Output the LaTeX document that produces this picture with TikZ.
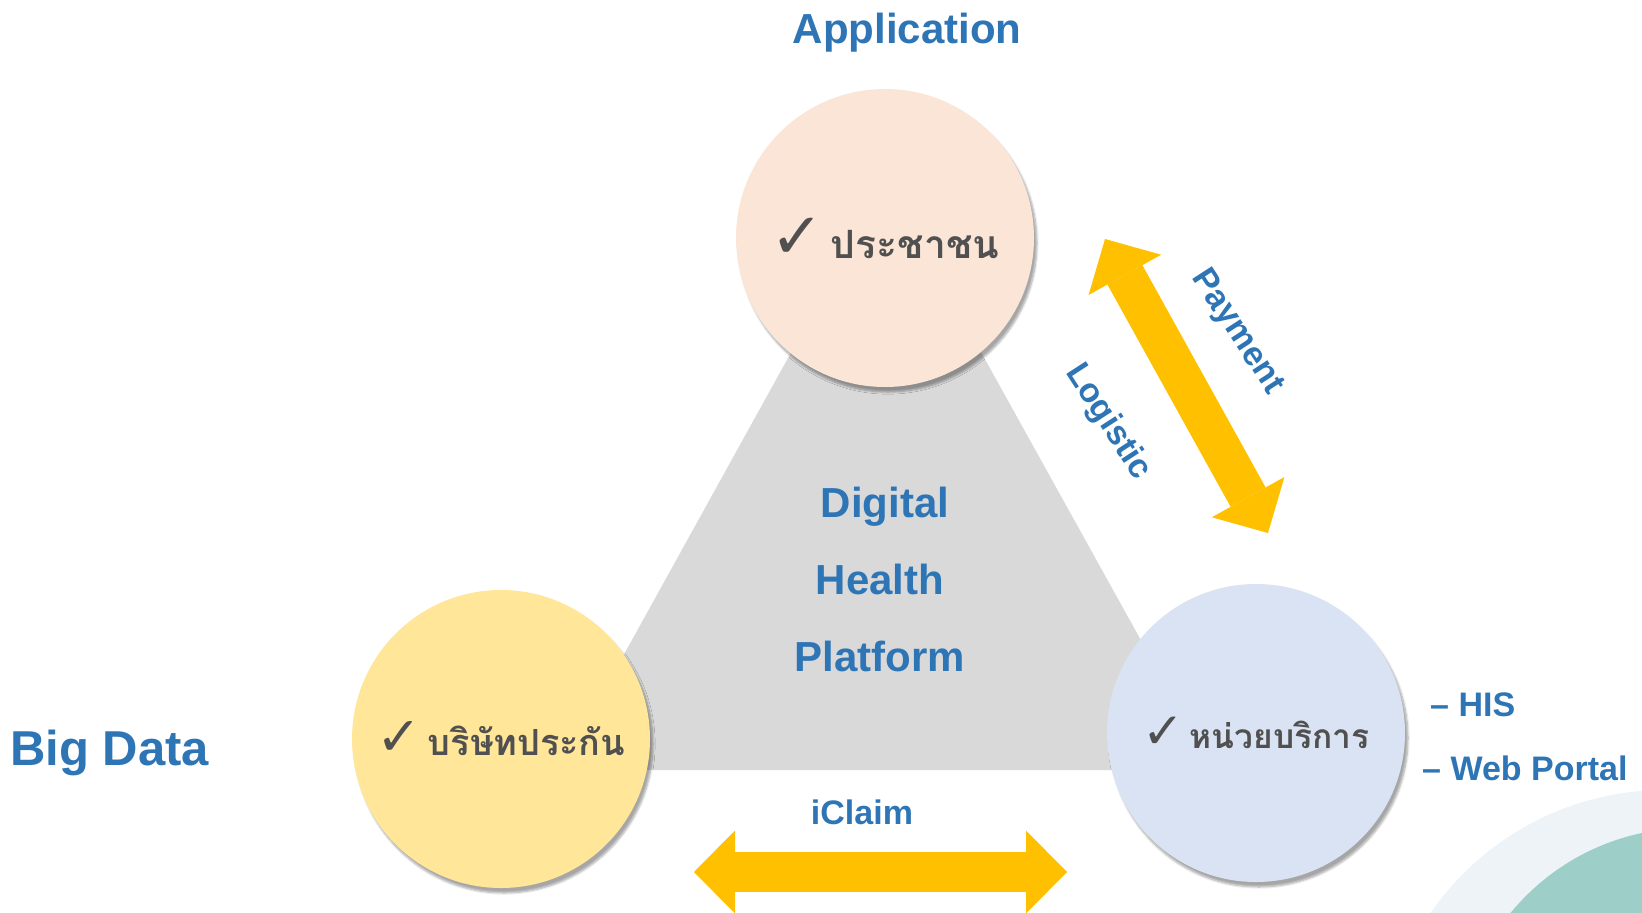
\documentclass[tikz,border=0pt]{standalone}
\usepackage{fontspec}
\setmainfont{Liberation Sans}
\newfontfamily\thaifont[Script=Thai]{Loma}
\newfontfamily\symfont{DejaVu Sans}
\usetikzlibrary{arrows.meta,shadows.blur}
\definecolor{peach}{HTML}{FBE5D6}
\definecolor{butter}{HTML}{FFE699}
\definecolor{mist}{HTML}{DAE3F3}
\definecolor{platgray}{HTML}{D9D9D9}
\definecolor{arrowgold}{HTML}{FFC000}
\definecolor{textblue}{HTML}{2E75B6}
\definecolor{thaigray}{HTML}{505050}
\definecolor{paleblue}{HTML}{EEF3F8}
\definecolor{decoteal}{HTML}{9DCFC8}
\newcommand{\tick}[1]{{\symfont\mdseries\fontsize{#1}{#1}\selectfont ✓}}
\begin{document}
\begin{tikzpicture}
    [x=1pt,y=-1pt,
     party/.style={circle,minimum size=298pt,inner sep=0pt,text=thaigray,
       blur shadow={shadow xshift=3pt,shadow yshift=-5pt,shadow blur steps=6,shadow opacity=35}},
     bluetext/.style={text=textblue,inner sep=0pt,font=\bfseries\fontsize{34}{40}\selectfont},
     flow/.style={draw=arrowgold,line width=40pt,<->,>={Triangle[length=41pt,width=83pt,line width=0pt]}}]
    \useasboundingbox (0,0) rectangle (1642,913);
    \fill[paleblue] (1665,1075) circle (285);
    \fill[decoteal] (1690,1060) circle (232);
    \fill[platgray] (886,181) -- (560,770) -- (1213,770) -- cycle;

    \node[party,fill=peach,font=\bfseries\fontsize{39}{46}\selectfont] (P) at (885,238) {\tick{64}\,\thaifont ประชาชน};
    \node[party,fill=butter,font=\bfseries\fontsize{36}{42}\selectfont] (I) at (501,739) {\tick{54}\,\thaifont บริษัทประกัน};
    \node[party,fill=mist,font=\bfseries\fontsize{33.5}{40}\selectfont] (S) at (1256,733) {\tick{50}\,\thaifont หน่วยบริการ};

    \coordinate (payA) at (1105,239);
    \coordinate (payB) at (1268,533);
    \coordinate (clmA) at (694,872);
    \coordinate (clmB) at (1067,872);
    \draw[flow] (payA) -- (payB);
    \draw[flow] (clmA) -- (clmB);

    \node[bluetext,font=\bfseries\fontsize{42}{50}\selectfont,anchor=base] (app) at (907,43) {Application};
    \node[bluetext,font=\bfseries\fontsize{42}{50}\selectfont,anchor=base] (dig) at (885,517) {Digital};
    \node[bluetext,font=\bfseries\fontsize{42}{50}\selectfont,anchor=base] (hea) at (880,594) {Health};
    \node[bluetext,font=\bfseries\fontsize{42}{50}\selectfont,anchor=base] (pla) at (880,671) {Platform};
    \node[bluetext,font=\bfseries\fontsize{49}{58}\selectfont,anchor=base west] (big) at (10,765) {Big Data};
    \node[bluetext,anchor=base] (clm) at (862,824) {iClaim};
    \node[bluetext,anchor=base west] (his) at (1430,716) {– HIS};
    \node[bluetext,anchor=base west] (web) at (1422,780) {– Web Portal};
    \node[bluetext,rotate=-57] (pay) at (1237,332) {Payment};
    \node[bluetext,rotate=-57] (log) at (1108,422) {Logistic};
  \end{tikzpicture}
\end{document}
